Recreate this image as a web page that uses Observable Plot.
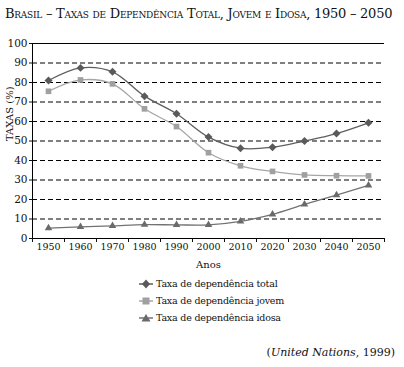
<!DOCTYPE html>
<html><head><meta charset="utf-8">
<script src="https://cdn.jsdelivr.net/npm/d3@7"></script>
<script src="https://cdn.jsdelivr.net/npm/@observablehq/plot@0.6"></script>
<style>
body{margin:0;background:#fff;}
#wrap{position:relative;width:404px;height:367px;overflow:hidden;font-family:"DejaVu Serif";}
#title{position:absolute;left:5px;top:6px;font-size:13px;font-variant:small-caps;white-space:nowrap;color:#111;letter-spacing:-0.25px;font-family:"DejaVu Serif";}
#chart{position:absolute;left:0;top:0;}
#legend{position:absolute;left:139px;top:275px;font-size:9.5px;color:#111;font-family:"DejaVu Serif";letter-spacing:-0.2px;}
#legend div{height:17px;display:flex;align-items:center;white-space:nowrap;}
#caption{position:absolute;right:9px;top:346px;font-size:11px;color:#111;font-family:"DejaVu Serif";}
#chart svg text{font-family:"DejaVu Serif" !important;}
</style></head><body>
<div id="wrap">
<div id="chart"></div>
<div id="title">Brasil – Taxas de Dependência Total, Jovem e Idosa, 1950 – 2050</div>
<div id="legend"></div>
<div id="caption">(<i>United Nations</i>, 1999)</div>
</div>
<script>
const years = [1950,1960,1970,1980,1990,2000,2010,2020,2030,2040,2050];
const total = [81,87.5,85.5,73,64,52,46.3,46.8,50,53.8,59.3];
const jovem = [75.5,81.3,79.3,66.5,57.4,44,37.3,34.4,32.6,32.2,32.1];
const idosa = [5.3,6,6.5,7.1,7,7,8.8,12.4,17.5,22.3,27.3];
const seriesNames = ["Taxa de dependência total","Taxa de dependência jovem","Taxa de dependência idosa"];
const yTicks = [0,10,20,30,40,50,60,70,80,90,100];
const xBoundaries = [1945,1955,1965,1975,1985,1995,2005,2015,2025,2035,2045,2055];

const lineColors = ["#5e5e5e","#a6a6a6","#727272"];
const markColors = ["#5a5a5a","#a0a0a0","#6a6a6a"];
const symbols = ["diamond2","square2","triangle2"];

const rows = [];
[total,jovem,idosa].forEach((vals,si)=>vals.forEach((v,i)=>rows.push({serie:seriesNames[si],year:years[i],value:v})));

const chart = Plot.plot({
  width:404, height:270,
  marginLeft:32, marginRight:20, marginTop:43, marginBottom:32,
  style:{fontFamily:"DejaVu Serif", fontSize:"10px", color:"#111", background:"transparent"},
  x:{type:"linear", domain:[1945,2055]},
  y:{domain:[0,100]},
  color:{domain:seriesNames, range:lineColors},
  symbol:{domain:seriesNames, range:symbols},
  marks:[
    Plot.ruleY(yTicks.filter(d=>d>0 && d<100), {x1:1945, x2:2055, stroke:"#000", strokeWidth:1, strokeDasharray:"5,3"}),
    Plot.ruleY([100], {x1:1945, x2:2055, stroke:"#000", strokeWidth:1}),
    Plot.axisY({ticks:yTicks, tickSize:3, tickPadding:2, label:null, fontSize:10.5}),
    Plot.ruleX([1945], {y1:0, y2:100, stroke:"#000"}),
    Plot.ruleY([0], {x1:1945, x2:2055, stroke:"#000"}),
    Plot.axisX({ticks:xBoundaries, tickFormat:()=>"", tickSize:4, label:null}),
    Plot.axisX({ticks:years, tickFormat:d=>String(d), tickSize:0, tickPadding:5, label:null, fontSize:9.5}),
    Plot.text(["TAXAS (%)"], {frameAnchor:"left", dx:-23, rotate:-90, fontSize:10, y:[50]}),
    Plot.text(["Anos"], {x:[2000], y:[0], dy:26, fontSize:10}),
    Plot.line(rows, {x:"year", y:"value", z:"serie", stroke:"serie", strokeWidth:1.3, curve:"catmull-rom"}),
    Plot.dot(rows, {x:"year", y:"value", symbol:"serie", fill:d=>markColors[seriesNames.indexOf(d.serie)], stroke:"none", r:3.6})
  ]
});
document.getElementById("chart").appendChild(chart);

const legend = document.getElementById("legend");
const sym = [
  '<polygon points="7,0.5 11,5 7,9.5 3,5" />',
  '<rect x="3.5" y="1.5" width="7" height="7" />',
  '<polygon points="7,1 11.5,8.5 2.5,8.5" />'
];
seriesNames.forEach((name,i)=>{
  const d = document.createElement("div");
  d.innerHTML = `<svg width="15" height="10" style="margin-right:2px"><line x1="0" x2="14" y1="5" y2="5" stroke="${lineColors[i]}" stroke-width="1.5"/><g fill="${markColors[i]}">${sym[i]}</g></svg><span>${name}</span>`;
  legend.appendChild(d);
});
</script>
</body></html>
